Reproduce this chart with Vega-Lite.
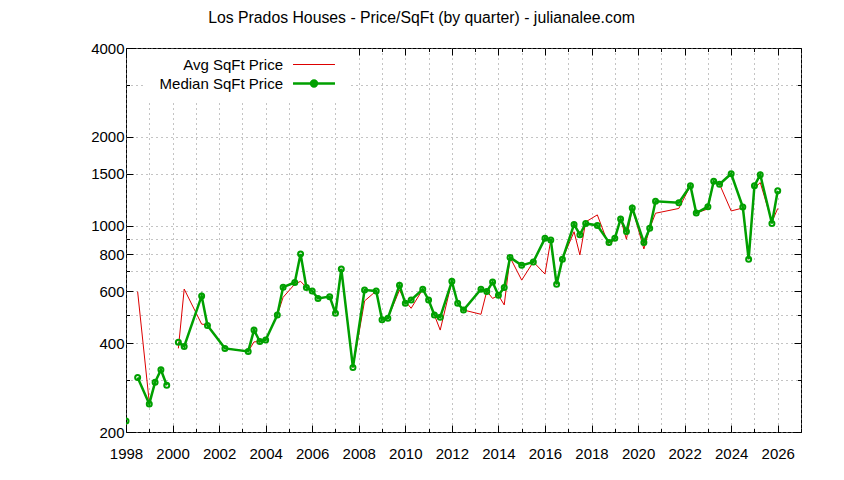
{
  "$schema": "https://vega.github.io/schema/vega-lite/v6.json",
  "width": 675,
  "height": 384,
  "autosize": {"type": "none"},
  "padding": {"left": 126, "top": 48, "right": 43, "bottom": 48},
  "background": "white",
  "title": {
    "text": "Los Prados Houses - Price/SqFt (by quarter) - julianalee.com",
    "font": "Liberation Sans",
    "fontSize": 15.8,
    "fontWeight": "normal",
    "color": "black",
    "anchor": "middle",
    "dx": -42,
    "baseline": "alphabetic",
    "offset": 2
  },
  "config": {
    "view": {"stroke": "black", "strokeWidth": 1},
    "axis": {
      "labelFont": "Liberation Sans",
      "labelFontSize": 15,
      "labelColor": "black",
      "tickColor": "black",
      "tickWidth": 1,
      "domain": false,
      "title": null,
      "gridColor": "#888888",
      "gridDash": [1, 4],
      "gridWidth": 1
    }
  },
  "data": {
    "values": [
      {"t": 1998.0, "seg": 1, "avg": 218, "med": 218},
      {"t": 1998.5, "seg": 2, "avg": 598, "med": 306},
      {"t": 1999.0, "seg": 2, "avg": 252, "med": 249},
      {"t": 1999.25, "seg": 2, "avg": 295, "med": 295},
      {"t": 1999.5, "seg": 2, "avg": 325, "med": 325},
      {"t": 1999.75, "seg": 2, "avg": 288, "med": 288},
      {"t": 2000.25, "seg": 3, "avg": 384, "med": 403},
      {"t": 2000.5, "seg": 3, "avg": 610, "med": 390},
      {"t": 2001.25, "seg": 3, "avg": 464, "med": 578},
      {"t": 2001.5, "seg": 3, "avg": 462, "med": 459},
      {"t": 2002.25, "seg": 3, "avg": 384, "med": 384},
      {"t": 2003.25, "seg": 3, "avg": 375, "med": 375},
      {"t": 2003.5, "seg": 3, "avg": 404, "med": 443},
      {"t": 2003.75, "seg": 3, "avg": 405, "med": 405},
      {"t": 2004.0, "seg": 3, "avg": 410, "med": 410},
      {"t": 2004.5, "seg": 3, "avg": 498, "med": 498},
      {"t": 2004.75, "seg": 3, "avg": 572, "med": 619},
      {"t": 2005.25, "seg": 3, "avg": 634, "med": 642},
      {"t": 2005.5, "seg": 3, "avg": 648, "med": 802},
      {"t": 2005.75, "seg": 3, "avg": 618, "med": 618},
      {"t": 2006.0, "seg": 3, "avg": 601, "med": 601},
      {"t": 2006.25, "seg": 3, "avg": 567, "med": 567},
      {"t": 2006.75, "seg": 3, "avg": 575, "med": 575},
      {"t": 2007.0, "seg": 3, "avg": 505, "med": 505},
      {"t": 2007.25, "seg": 3, "avg": 714, "med": 714},
      {"t": 2007.75, "seg": 3, "avg": 331, "med": 331},
      {"t": 2008.25, "seg": 3, "avg": 556, "med": 605},
      {"t": 2008.75, "seg": 3, "avg": 601, "med": 601},
      {"t": 2009.0, "seg": 3, "avg": 480, "med": 480},
      {"t": 2009.25, "seg": 3, "avg": 486, "med": 486},
      {"t": 2009.75, "seg": 3, "avg": 605, "med": 629},
      {"t": 2010.0, "seg": 3, "avg": 555, "med": 546},
      {"t": 2010.25, "seg": 3, "avg": 525, "med": 560},
      {"t": 2010.75, "seg": 3, "avg": 609, "med": 609},
      {"t": 2011.0, "seg": 3, "avg": 560, "med": 560},
      {"t": 2011.25, "seg": 3, "avg": 498, "med": 498},
      {"t": 2011.5, "seg": 3, "avg": 443, "med": 490},
      {"t": 2012.0, "seg": 3, "avg": 648, "med": 648},
      {"t": 2012.25, "seg": 3, "avg": 546, "med": 546},
      {"t": 2012.5, "seg": 3, "avg": 518, "med": 518},
      {"t": 2013.25, "seg": 3, "avg": 501, "med": 609},
      {"t": 2013.5, "seg": 3, "avg": 600, "med": 598},
      {"t": 2013.75, "seg": 3, "avg": 567, "med": 644},
      {"t": 2014.0, "seg": 3, "avg": 581, "med": 581},
      {"t": 2014.25, "seg": 3, "avg": 539, "med": 618},
      {"t": 2014.5, "seg": 3, "avg": 781, "med": 781},
      {"t": 2015.0, "seg": 3, "avg": 654, "med": 734},
      {"t": 2015.5, "seg": 3, "avg": 754, "med": 754},
      {"t": 2016.0, "seg": 3, "avg": 686, "med": 906},
      {"t": 2016.25, "seg": 3, "avg": 894, "med": 894},
      {"t": 2016.5, "seg": 3, "avg": 633, "med": 633},
      {"t": 2016.75, "seg": 3, "avg": 770, "med": 770},
      {"t": 2017.25, "seg": 3, "avg": 954, "med": 1010},
      {"t": 2017.5, "seg": 3, "avg": 796, "med": 932},
      {"t": 2017.75, "seg": 3, "avg": 1030, "med": 1018},
      {"t": 2018.25, "seg": 3, "avg": 1088, "med": 1002},
      {"t": 2018.75, "seg": 3, "avg": 854, "med": 878},
      {"t": 2019.0, "seg": 3, "avg": 906, "med": 906},
      {"t": 2019.25, "seg": 3, "avg": 1054, "med": 1054},
      {"t": 2019.5, "seg": 3, "avg": 900, "med": 956},
      {"t": 2019.75, "seg": 3, "avg": 1148, "med": 1148},
      {"t": 2020.25, "seg": 3, "avg": 834, "med": 878},
      {"t": 2020.5, "seg": 3, "avg": 980, "med": 980},
      {"t": 2020.75, "seg": 3, "avg": 1102, "med": 1210},
      {"t": 2021.75, "seg": 3, "avg": 1144, "med": 1196},
      {"t": 2022.25, "seg": 3, "avg": 1366, "med": 1366},
      {"t": 2022.5, "seg": 3, "avg": 1104, "med": 1104},
      {"t": 2023.0, "seg": 3, "avg": 1140, "med": 1160},
      {"t": 2023.25, "seg": 3, "avg": 1414, "med": 1414},
      {"t": 2023.5, "seg": 3, "avg": 1382, "med": 1382},
      {"t": 2024.0, "seg": 3, "avg": 1122, "med": 1500},
      {"t": 2024.5, "seg": 3, "avg": 1148, "med": 1156},
      {"t": 2024.75, "seg": 3, "avg": 770, "med": 770},
      {"t": 2025.0, "seg": 3, "avg": 1340, "med": 1366},
      {"t": 2025.25, "seg": 3, "avg": 1400, "med": 1488},
      {"t": 2025.75, "seg": 3, "avg": 1030, "med": 1018},
      {"t": 2026.0, "seg": 3, "avg": 1144, "med": 1313}
    ]
  },
  "resolve": {"axis": {"x": "independent", "y": "independent"}},
  "layer": [
    {
      "mark": {"type": "line", "strokeWidth": 1, "clip": true},
      "encoding": {
        "x": {
          "field": "t",
          "type": "quantitative",
          "scale": {"domain": [1998, 2027], "nice": false, "zero": false},
          "axis": {
            "orient": "bottom",
            "values": [1998, 1999, 2000, 2001, 2002, 2003, 2004, 2005, 2006, 2007, 2008, 2009, 2010, 2011, 2012, 2013, 2014, 2015, 2016, 2017, 2018, 2019, 2020, 2021, 2022, 2023, 2024, 2025, 2026, 2027],
            "labelExpr": "datum.value % 2 === 0 ? format(datum.value, 'd') : ''",
            "tickSize": {"condition": {"test": "datum.value % 2 === 0", "value": -7}, "value": -3.5},
            "labelPadding": 21,
            "labelFlush": false,
            "labelOverlap": false,
            "grid": true
          }
        },
        "y": {
          "field": "avg",
          "type": "quantitative",
          "scale": {"type": "log", "domain": [200, 4000], "nice": false},
          "axis": {
            "orient": "left",
            "values": [200, 300, 400, 500, 600, 700, 800, 900, 1000, 1500, 2000, 3000, 4000],
            "labelExpr": "indexof([200, 400, 600, 800, 1000, 1500, 2000, 4000], datum.value) >= 0 ? format(datum.value, 'd') : ''",
            "tickSize": {"condition": {"test": "indexof([200, 400, 600, 800, 1000, 1500, 2000, 4000], datum.value) >= 0", "value": -7}, "value": -3.5},
            "labelPadding": 9,
            "labelFlush": false,
            "labelOverlap": false,
            "grid": true
          }
        },
        "detail": {"field": "seg"},
        "color": {
          "datum": "Avg SqFt Price",
          "type": "nominal",
          "scale": {"domain": ["Avg SqFt Price", "Median SqFt Price"], "range": ["#dd0000", "#00a000"]},
          "legend": {
            "orient": "none",
            "legendX": 19,
            "legendY": 1,
            "title": null,
            "fillColor": "white",
            "padding": 8,
            "labelFont": "Liberation Sans",
            "labelFontSize": 15,
            "labelColor": "black",
            "labelLimit": 300,
            "symbolSize": 324,
            "rowPadding": 2,
            "encode": {
              "labels": {"update": {"x": {"value": 130}, "align": {"value": "right"}}},
              "symbols": {
                "update": {
                  "x": {"value": 161},
                  "shape": {"signal": "datum.value === 'Avg SqFt Price' ? 'M-2.33,0H2.33' : 'M-2.33,0H2.33M-0.33,0A0.33,0.33,0,1,1,0.33,0A0.33,0.33,0,1,1,-0.33,0'"},
                  "strokeWidth": {"signal": "datum.value === 'Avg SqFt Price' ? 1 : 2.5"},
                  "fill": {"signal": "datum.value === 'Avg SqFt Price' ? 'transparent' : '#00a000'"},
                  "opacity": {"value": 1}
                }
              }
            }
          }
        }
      }
    },
    {
      "mark": {"type": "line", "strokeWidth": 2.5, "clip": true},
      "encoding": {
        "x": {"field": "t", "type": "quantitative", "axis": null},
        "y": {"field": "med", "type": "quantitative", "axis": null},
        "detail": {"field": "seg"},
        "color": {"datum": "Median SqFt Price", "type": "nominal"}
      }
    },
    {
      "mark": {"type": "point", "shape": "circle", "filled": false, "size": 25, "strokeWidth": 2, "color": "#00a000", "opacity": 1, "clip": true},
      "encoding": {
        "x": {
          "field": "t",
          "type": "quantitative",
          "axis": {
            "orient": "top",
            "values": [1998, 1999, 2000, 2001, 2002, 2003, 2004, 2005, 2006, 2007, 2008, 2009, 2010, 2011, 2012, 2013, 2014, 2015, 2016, 2017, 2018, 2019, 2020, 2021, 2022, 2023, 2024, 2025, 2026, 2027],
            "labels": false,
            "grid": false,
            "tickSize": {"condition": {"test": "datum.value % 2 === 0", "value": -7}, "value": -3.5}
          }
        },
        "y": {
          "field": "med",
          "type": "quantitative",
          "axis": {
            "orient": "right",
            "values": [200, 300, 400, 500, 600, 700, 800, 900, 1000, 1500, 2000, 3000, 4000],
            "labels": false,
            "grid": false,
            "tickSize": {"condition": {"test": "indexof([200, 400, 600, 800, 1000, 1500, 2000, 4000], datum.value) >= 0", "value": -7}, "value": -3.5}
          }
        }
      }
    }
  ]
}
